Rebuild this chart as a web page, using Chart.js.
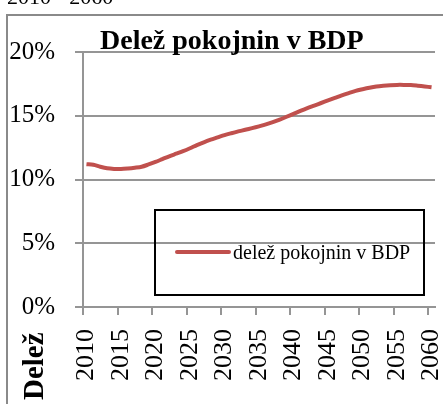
<!DOCTYPE html>
<html>
<head>
<meta charset="utf-8">
<script src="https://cdn.jsdelivr.net/npm/chart.js@4.4.1/dist/chart.umd.min.js"></script>
<style>
  html, body { margin: 0; padding: 0; background: #fff; }
  #wrap { width: 443px; height: 404px; }
</style>
</head>
<body>
<div id="wrap"><canvas id="chart" width="443" height="404"></canvas></div>
<script>
const years = [];
for (let y = 2010; y <= 2060; y++) years.push(String(y));

// delež pokojnin v BDP (%)
const pensionShare = [
  11.20, 11.15, 11.00, 10.88, 10.83, 10.82, 10.86, 10.92, 11.00, 11.18,
  11.38, 11.60, 11.82, 12.02, 12.22, 12.45, 12.70, 12.92, 13.12, 13.30,
  13.48, 13.63, 13.77, 13.90, 14.03, 14.17, 14.32, 14.50, 14.70, 14.92,
  15.15, 15.38, 15.60, 15.80, 16.00, 16.20, 16.40, 16.60, 16.78, 16.95,
  17.08, 17.20, 17.30, 17.36, 17.40, 17.42, 17.42, 17.41, 17.36, 17.30,
  17.23
];

const yTicks = [0, 5, 10, 15, 20];
const chartTitle = 'Delež pokojnin v BDP';
const axisTitle = 'Delež';
const topText = '2010 - 2060';
const seriesLabel = 'delež pokojnin v BDP';

const gridColor = '#959595';
const lineColor = '#c0504d';
const serif = "'Liberation Serif', 'Times New Roman', serif";

const decorations = {
  id: 'decorations',
  beforeDraw(chart) {
    const c = chart.ctx;
    c.save();
    // outer frame
    c.strokeStyle = '#8a8a8a';
    c.lineWidth = 2;
    c.beginPath();
    c.moveTo(7, 404);
    c.lineTo(7, 15);
    c.lineTo(443, 15);
    c.stroke();
    // text cut off at the top
    c.fillStyle = '#000';
    c.font = '22px ' + serif;
    c.textBaseline = 'alphabetic';
    c.fillText(topText, 7, 4);
    c.restore();
  },
  afterDraw(chart) {
    const c = chart.ctx;
    c.save();
    c.fillStyle = '#000';
    c.font = 'bold 28px ' + serif;
    c.textBaseline = 'alphabetic';
    c.fillText(chartTitle, 100, 49);

    // vertical axis title, sits at the bottom
    c.save();
    c.font = 'bold 29px ' + serif;
    c.translate(43, 400);
    c.rotate(-Math.PI / 2);
    c.fillText(axisTitle, 0, 0);
    c.restore();

    // legend box
    const ds = chart.data.datasets[0];
    c.strokeStyle = '#000';
    c.lineWidth = 2;
    c.strokeRect(155, 210, 269, 85);
    c.strokeStyle = ds.borderColor;
    c.lineWidth = 4;
    c.lineCap = 'round';
    c.beginPath();
    c.moveTo(177, 252);
    c.lineTo(229, 252);
    c.stroke();
    c.font = '20px ' + serif;
    c.fillText(ds.label, 233, 259);
    c.restore();
  }
};

new Chart(document.getElementById('chart'), {
  type: 'line',
  data: {
    labels: years,
    datasets: [{
      label: seriesLabel,
      data: pensionShare,
      borderColor: lineColor,
      borderWidth: 4,
      pointRadius: 0,
      tension: 0.3,
      fill: false
    }]
  },
  options: {
    responsive: false,
    animation: false,
    layout: { padding: { top: 52, right: 8, left: 0, bottom: 0 } },
    plugins: {
      legend: { display: false },
      title: { display: false },
      tooltip: { enabled: false }
    },
    scales: {
      x: {
        type: 'category',
        offset: true,
        grid: {
          offset: true,
          drawOnChartArea: false,
          tickLength: 8,
          lineWidth: 2,
          tickColor: (ctx) => (ctx.index !== undefined && ctx.index % 5 === 0) ? gridColor : 'rgba(0,0,0,0)'
        },
        border: { color: gridColor, width: 2 },
        ticks: {
          autoSkip: false,
          minRotation: 90,
          maxRotation: 90,
          padding: 14,
          color: '#000',
          font: { family: serif, size: 26 },
          callback: function (val, i) {
            const lab = this.getLabelForValue(val);
            return Number(lab) % 5 === 0 ? lab : '';
          }
        },
        afterFit: (s) => { s.height = 97; s.paddingLeft = 0; s.paddingRight = 0; }
      },
      y: {
        min: 0,
        max: 20,
        afterBuildTicks: (s) => { s.ticks = yTicks.map(v => ({ value: v })); },
        grid: { color: gridColor, lineWidth: 2, tickLength: 8 },
        border: { color: gridColor, width: 2 },
        ticks: {
          padding: 20,
          color: '#000',
          font: { family: serif, size: 25 },
          callback: (v) => v + '%'
        },
        afterFit: (s) => { s.width = 83; s.paddingTop = 0; s.paddingBottom = 0; }
      }
    }
  },
  plugins: [decorations]
});
</script>
</body>
</html>
